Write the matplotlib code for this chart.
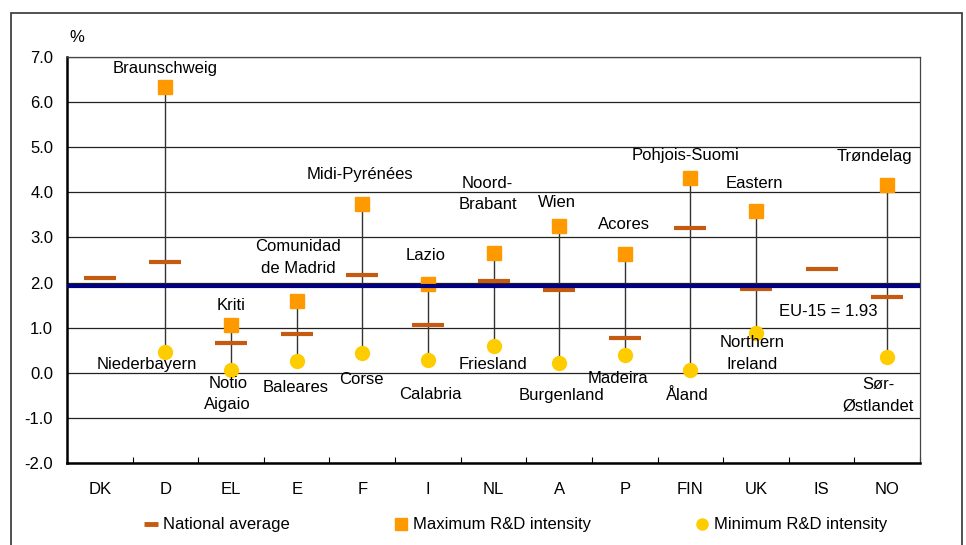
import numpy as np
import matplotlib
matplotlib.use("Agg")
import matplotlib.pyplot as plt
from matplotlib.lines import Line2D
from matplotlib.patches import Rectangle

plt.rcParams['font.family'] = ['Liberation Sans', 'DejaVu Sans']

# regional R&D intensity (%), by country
countries = ['DK', 'D', 'EL', 'E', 'F', 'I', 'NL', 'A', 'P', 'FIN', 'UK', 'IS', 'NO']
national_avg = [2.10, 2.46, 0.66, 0.87, 2.17, 1.06, 2.04, 1.83, 0.78, 3.22, 1.86, 2.31, 1.69]
max_int = [np.nan, 6.34, 1.06, 1.59, 3.75, 1.96, 2.66, 3.26, 2.63, 4.31, 3.58, np.nan, 4.17]
min_int = [np.nan, 0.46, 0.07, 0.25, 0.43, 0.29, 0.60, 0.21, 0.39, 0.07, 0.89, np.nan, 0.35]
eu15 = 1.93

max_regions = ['', 'Braunschweig', 'Kriti', 'Comunidad\nde Madrid', 'Midi-Pyrénées', 'Lazio',
               'Noord-\nBrabant', 'Wien', 'Acores', 'Pohjois-Suomi', 'Eastern', '', 'Trøndelag']
min_regions = ['', 'Niederbayern', 'Notio\nAigaio', 'Baleares', 'Corse', 'Calabria',
               'Friesland', 'Burgenland', 'Madeira', 'Åland', 'Northern\nIreland', '', 'Sør-\nØstlandet']

# label placement (x offset from category, y in %)
max_lbl_pos = [None, (0.0, 6.75), (0.0, 1.49), (0.02, 2.55), (-0.03, 4.39), (-0.03, 2.61),
               (-0.09, 3.96), (-0.03, 3.78), (-0.01, 3.29), (-0.07, 4.82), (-0.02, 4.19),
               None, (-0.19, 4.80)]
min_lbl_pos = [None, (-0.28, 0.18), (-0.05, -0.47), (-0.01, -0.33), (-0.01, -0.15), (0.03, -0.48),
               (-0.01, 0.18), (0.03, -0.50), (-0.10, -0.13), (-0.04, -0.50), (-0.06, 0.43),
               None, (-0.14, -0.50)]

avg_col = '#C55A11'
max_col = '#FF9900'
min_col = '#FFCC00'
eu_col = '#000080'
fs = 12

fig = plt.figure(figsize=(9.66, 5.45), dpi=100)
ax = fig.add_axes([0.0694, 0.1505, 0.8830, 0.7449])

x = np.arange(len(countries))

# grid
for v in range(-2, 8):
    ax.axhline(v, color='#222222', lw=0.9, zorder=1)

# connecting lines between max and min
for i in x:
    if not np.isnan(max_int[i]):
        ax.plot([i, i], [min_int[i], max_int[i]], color='#333333', lw=1.0, zorder=2)

ax.plot(x, max_int, ls='none', marker='s', ms=10, color=max_col, mec=max_col, zorder=3)
ax.plot(x, min_int, ls='none', marker='o', ms=10, color=min_col, mec=min_col, zorder=3)
ax.plot(x, national_avg, ls='none', marker='_', ms=22.5, mew=3, color=avg_col, zorder=4)

ax.axhline(eu15, color=eu_col, lw=3, zorder=5)
ax.text(11.1, 1.36, 'EU-15 = %.2f' % eu15, ha='center', va='center', fontsize=fs)

for i in x:
    if max_lbl_pos[i] is not None:
        dx, y = max_lbl_pos[i]
        ax.text(i + dx, y, max_regions[i], ha='center', va='center', fontsize=fs,
                linespacing=1.55)
    if min_lbl_pos[i] is not None:
        dx, y = min_lbl_pos[i]
        ax.text(i + dx, y, min_regions[i], ha='center', va='center', fontsize=fs,
                linespacing=1.55)

ax.set_xlim(-0.5, len(countries) - 0.5)
ax.set_ylim(-2, 7)
ax.set_yticks(range(-2, 8))
ax.set_yticklabels(['%.1f' % v for v in range(-2, 8)], fontsize=fs)
ax.set_xticks(x)
ax.set_xticklabels(countries, fontsize=fs)
ax.set_xticks(np.arange(-0.5, len(countries)), minor=True)
ax.tick_params(axis='y', length=0, pad=10)
ax.tick_params(axis='x', which='major', length=0, pad=14)
ax.tick_params(axis='x', which='minor', direction='in', length=4, width=0.8)

for s in ['left', 'bottom']:
    ax.spines[s].set_linewidth(1.8)
for s in ['top', 'right']:
    ax.spines[s].set_linewidth(0.9)
    ax.spines[s].set_color('#444444')

fig.text(77 / 966, 1 - 38 / 545, '%', ha='center', va='center', fontsize=fs)

# outer frame
fig.patches.append(Rectangle((11 / 966, -0.1), (962 - 11) / 966, 1.1 - 13 / 545,
                             transform=fig.transFigure, fill=False, ec='#333333', lw=1.2))

handles = [
    Line2D([], [], ls='none', marker='_', ms=10, mew=3.5, color=avg_col),
    Line2D([], [], ls='none', marker='s', ms=8, color=max_col),
    Line2D([], [], ls='none', marker='o', ms=8, color=min_col),
]
labels = ['National average', 'Maximum R&D intensity', 'Minimum R&D intensity']
fig.legend(handles, labels, loc='center', bbox_to_anchor=(0.534, 0.037), ncol=3,
           frameon=False, fontsize=fs, handlelength=0.8, handletextpad=0.3,
           columnspacing=6.3)

fig.savefig('out.png', dpi=100)
